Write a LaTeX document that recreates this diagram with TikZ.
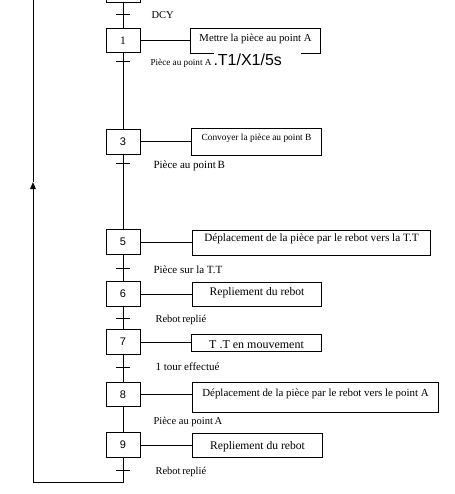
\documentclass[tikz,border=0pt]{standalone}
\usepackage{fontspec}
\setmainfont{Liberation Serif}
\newfontfamily\numfont{Liberation Sans}
\usetikzlibrary{arrows.meta}
\begin{document}
\begin{tikzpicture}[x=1pt,y=-1pt,line width=1pt,
  stepbox/.style={draw,minimum width=34pt,minimum height=24.5pt,inner sep=0pt,
    font=\numfont\fontsize{11}{12}\selectfont},
  actbox/.style={draw,anchor=north west,inner sep=0pt},
  lbl/.style={anchor=base west,inner sep=0pt,font=\fontsize{11}{12}\selectfont},
  ticktr/.style={line width=1pt}]
\useasboundingbox (0,0) rectangle (454,494);

% steps
\node[stepbox] (s0) at (123,-9.25) {};
\node[stepbox,font=\fontsize{11.5}{12}\selectfont] (s1) at (123,40.5) {1};
\node[stepbox] (s3) at (123,142) {3};
\node[stepbox] (s5) at (123,242) {5};
\node[stepbox] (s6) at (123,294) {6};
\node[stepbox] (s7) at (123,342) {7};
\node[stepbox] (s8) at (123,394.5) {8};
\node[stepbox] (s9) at (123,445) {9};

% actions
\node[actbox,minimum width=130pt,minimum height=25pt,text height=8pt,text depth=7.6pt,
  font=\fontsize{10.7}{12}\selectfont] (a1) at (190,28) {Mettre la pièce au point A};
\node[actbox,minimum width=130pt,minimum height=27pt,text height=8pt,text depth=11pt,
  font=\fontsize{9.4}{11}\selectfont] (a3) at (191,128) {Convoyer la pièce au point B};
\node[actbox,minimum width=238pt,minimum height=25pt,text height=8pt,text depth=12pt,
  font=\fontsize{11.2}{12}\selectfont] (a5) at (192,230) {Déplacement de la pièce par le rebot vers la T.T};
\node[actbox,minimum width=129pt,minimum height=24pt,text height=8pt,text depth=6pt,
  font=\fontsize{11.6}{13}\selectfont] (a6) at (192,282) {Repliement du rebot};
\node[actbox,minimum width=130pt,minimum height=17pt,text height=11.6pt,text depth=0pt,
  font=\fontsize{12}{13}\selectfont] (a7) at (191,334) {T .T en mouvement};
\node[actbox,minimum width=246pt,minimum height=30pt,text height=8pt,text depth=10.6pt,
  font=\fontsize{10.9}{12}\selectfont] (a8) at (192,382) {Déplacement de la pièce par le rebot vers  le point A};
\node[actbox,minimum width=130pt,minimum height=24pt,text height=10.6pt,text depth=2pt,
  font=\fontsize{11.6}{13}\selectfont] (a9) at (192,433) {Repliement du rebot};

% step-action links
\foreach \s/\a in {s1/a1,s3/a3,s5/a5,s6/a6,s7/a7,s8/a8,s9/a9}
  \draw (\s.east) -- (\s.east -| \a.west);

% main line
\coordinate (bl) at (123,482);
\coordinate (br) at (33,482);
\coordinate (arr) at (33,182);
\coordinate (top) at (33,-5);
\draw (s0.south) -- (s1.north);
\draw (s1.south) -- (s3.north);
\draw (s3.south) -- (s5.north);
\draw (s5.south) -- (s6.north);
\draw (s6.south) -- (s7.north);
\draw (s7.south) -- (s8.north);
\draw (s8.south) -- (s9.north);
\draw[-{Triangle[length=7pt,width=5.5pt]}] (s9.south) -- (bl) -- (br) -- (arr);
\draw (arr) -- (top);

% transitions
\foreach \n/\y in {t0/15,t1/62,t3/164,t5/268,t6/318,t7/367,t9/470}{
  \coordinate (\n) at (123,\y);
  \draw[ticktr] (\n) ++(-7,0) -- ++(14,0);
}

% receptivities
\node[lbl,font=\fontsize{10.5}{12}\selectfont] (r0) at (151,19) {DCY};
\node[lbl,font=\fontsize{9.2}{11}\selectfont] (r1) at (150,66) {Pièce au point A};
\node[anchor=base west,inner sep=0pt,fill=white,text height=13.8pt,text depth=2pt,
  text width=87pt,align=left,font=\numfont\fontsize{16}{18}\selectfont] (r1b) at (213,66) {.T1/X1/5s};
\node[lbl] (r3) at (153,168.5) {Pièce au point\,B};
\node[lbl] (r5) at (153,273) {Pièce sur la T.T};
\node[lbl,font=\fontsize{10.5}{12}\selectfont] (r6) at (155,322.5) {Rebot\,replié};
\node[lbl] (r7) at (155,370.5) {1 tour effectué};
\node[lbl,font=\fontsize{10.5}{12}\selectfont] (r8) at (153,424.5) {Pièce au point\,A};
\node[lbl,font=\fontsize{10.5}{12}\selectfont] (r9) at (155,474) {Rebot\,replié};
\end{tikzpicture}
\end{document}
